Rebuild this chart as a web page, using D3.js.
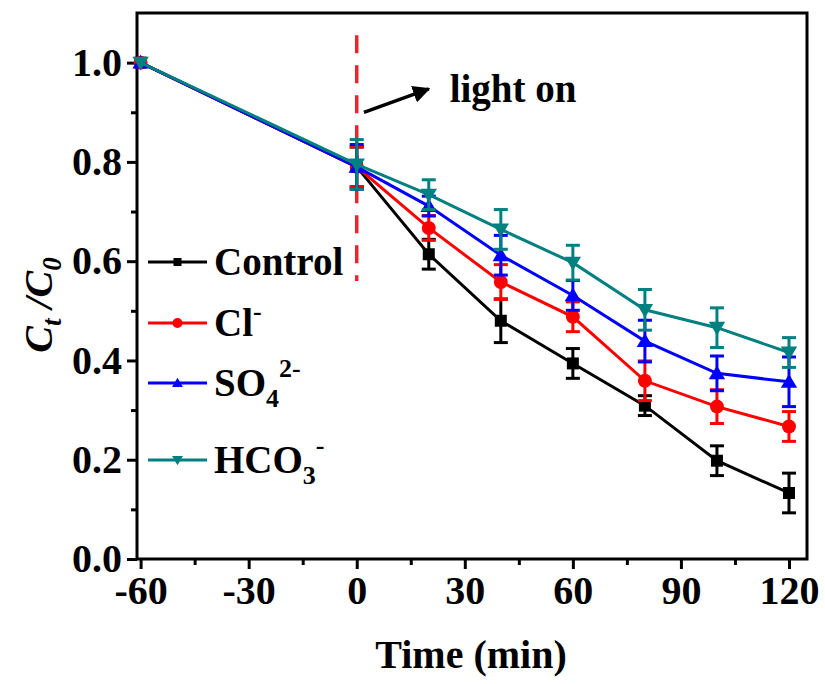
<!DOCTYPE html>
<html>
<head>
<meta charset="utf-8">
<script src="https://cdn.jsdelivr.net/npm/d3@7"></script>
<style>
  body { margin: 0; background: #fff; }
  text { font-family: "Liberation Serif", "Times New Roman", serif; font-weight: bold; }
</style>
</head>
<body>
<div id="chart"></div>
<script>
// data
const times = [-60, 0, 20, 40, 60, 80, 100, 120];
const control = [1.0, 0.79, 0.614, 0.48, 0.394, 0.309, 0.198, 0.133];
const controlErr = [0, 0.04, 0.03, 0.044, 0.03, 0.02, 0.03, 0.04];
const chloride = [1.0, 0.79, 0.667, 0.558, 0.488, 0.359, 0.307, 0.267];
const chlorideErr = [0, 0.04, 0.025, 0.035, 0.03, 0.04, 0.034, 0.03];
const sulfate = [1.0, 0.79, 0.711, 0.612, 0.531, 0.439, 0.374, 0.357];
const sulfateErr = [0, 0.045, 0.02, 0.04, 0.03, 0.042, 0.035, 0.05];
const bicarb = [1.0, 0.795, 0.734, 0.664, 0.597, 0.502, 0.466, 0.416];
const bicarbErr = [0, 0.05, 0.03, 0.04, 0.035, 0.041, 0.04, 0.03];

const xTicks = [-60, -30, 0, 30, 60, 90, 120];
const xMinor = [-45, -15, 15, 45, 75, 105];
const yTicks = [0, 0.2, 0.4, 0.6, 0.8, 1.0];
const yMinor = [0.1, 0.3, 0.5, 0.7, 0.9];

const series = [
  {name: "Control", values: control, err: controlErr, color: "#000000", shape: "square"},
  {name: "Cl", values: chloride, err: chlorideErr, color: "#ff0000", shape: "circle"},
  {name: "SO4", values: sulfate, err: sulfateErr, color: "#0000ff", shape: "up"},
  {name: "HCO3", values: bicarb, err: bicarbErr, color: "#008080", shape: "down"}
];

const W = 825, H = 684;
const margin = {left: 137, right: 807, top: 13, bottom: 559};

const svg = d3.select("#chart").append("svg")
  .attr("width", W).attr("height", H);

const x = d3.scaleLinear().domain([-61, 125]).range([margin.left, margin.right]);
const y = d3.scaleLinear().domain([0, 1.1]).range([margin.bottom, margin.top]);

// axes
const xAxis = svg.append("g")
  .attr("transform", `translate(0,${margin.bottom})`)
  .call(d3.axisBottom(x).tickValues(xTicks).tickSize(10).tickPadding(7).tickFormat(d3.format("d")));
svg.append("g")
  .attr("transform", `translate(0,${margin.bottom})`)
  .call(d3.axisBottom(x).tickValues(xMinor).tickSize(6).tickFormat(""));
const yAxis = svg.append("g")
  .attr("transform", `translate(${margin.left},0)`)
  .call(d3.axisLeft(y).tickValues(yTicks).tickSize(10).tickPadding(5).tickFormat(d3.format(".1f")));
svg.append("g")
  .attr("transform", `translate(${margin.left},0)`)
  .call(d3.axisLeft(y).tickValues(yMinor).tickSize(6).tickFormat(""));

svg.selectAll(".domain").remove();
svg.selectAll(".tick line").attr("stroke", "#000").attr("stroke-width", 3);
svg.selectAll(".tick text")
  .attr("fill", "#000")
  .style("font-family", "'Liberation Serif', serif")
  .style("font-weight", "bold")
  .style("font-size", "40px");
xAxis.selectAll(".tick text").text(d => d < 0 ? "-" + Math.abs(d) : d);

// frame
svg.append("rect")
  .attr("x", margin.left).attr("y", margin.top)
  .attr("width", margin.right - margin.left).attr("height", margin.bottom - margin.top)
  .attr("fill", "none").attr("stroke", "#000").attr("stroke-width", 3);

// light-on marker
svg.append("line")
  .attr("x1", x(0)).attr("x2", x(0))
  .attr("y1", y(1.055)).attr("y2", y(0.56))
  .attr("stroke", "#e8262b").attr("stroke-width", 3.5)
  .attr("stroke-dasharray", "18,12");

svg.append("defs").append("marker")
  .attr("id", "arrow").attr("viewBox", "0 0 10 10")
  .attr("refX", 9).attr("refY", 5)
  .attr("markerWidth", 5).attr("markerHeight", 5)
  .attr("orient", "auto")
  .append("path").attr("d", "M0,0 L10,5 L0,10 Z").attr("fill", "#000");

svg.append("line")
  .attr("x1", x(2)).attr("y1", y(0.9))
  .attr("x2", x(20)).attr("y2", y(0.947))
  .attr("stroke", "#000").attr("stroke-width", 3.5)
  .attr("marker-end", "url(#arrow)");

svg.append("text")
  .attr("x", x(25.8)).attr("y", y(0.92))
  .style("font-size", "39px")
  .text("light on");

// symbols
function drawMarker(g, shape, cx, cy, s, color) {
  if (shape === "square") {
    g.append("rect").attr("x", cx - s / 2).attr("y", cy - s / 2)
      .attr("width", s).attr("height", s).attr("fill", color);
  } else if (shape === "circle") {
    g.append("circle").attr("cx", cx).attr("cy", cy).attr("r", s / 2 + 1).attr("fill", color);
  } else if (shape === "up") {
    const h = s * 1.1;
    g.append("path").attr("d", `M${cx},${cy - h * 0.6} L${cx + h * 0.62},${cy + h * 0.45} L${cx - h * 0.62},${cy + h * 0.45} Z`).attr("fill", color);
  } else {
    const h = s * 1.1;
    g.append("path").attr("d", `M${cx},${cy + h * 0.6} L${cx + h * 0.62},${cy - h * 0.45} L${cx - h * 0.62},${cy - h * 0.45} Z`).attr("fill", color);
  }
}

const line = d3.line().x(d => x(d.t)).y(d => y(d.v));

series.forEach(s => {
  const pts = times.map((t, i) => ({t: t, v: s.values[i], e: s.err[i]}));
  const g = svg.append("g");
  g.append("path").datum(pts)
    .attr("fill", "none").attr("stroke", s.color).attr("stroke-width", 3)
    .attr("d", line);
  pts.filter(p => p.e > 0).forEach(p => {
    const cx = x(p.t);
    g.append("line").attr("x1", cx).attr("x2", cx)
      .attr("y1", y(p.v - p.e)).attr("y2", y(p.v + p.e))
      .attr("stroke", s.color).attr("stroke-width", 3);
    [p.v - p.e, p.v + p.e].forEach(v => {
      g.append("line").attr("x1", cx - 7).attr("x2", cx + 7)
        .attr("y1", y(v)).attr("y2", y(v))
        .attr("stroke", s.color).attr("stroke-width", 3);
    });
  });
  pts.forEach(p => drawMarker(g, s.shape, x(p.t), y(p.v), 12, s.color));
});

// legend
const legendY = [262, 323, 383, 460];
const legend = svg.append("g");
series.forEach((s, i) => {
  const ly = legendY[i];
  legend.append("line").attr("x1", 148).attr("x2", 207)
    .attr("y1", ly).attr("y2", ly)
    .attr("stroke", s.color).attr("stroke-width", 3);
  drawMarker(legend, s.shape, 177.5, ly, 8, s.color);
  const t = legend.append("text").attr("x", 214).attr("y", ly + 13).style("font-size", "39px");
  if (s.name === "Control") {
    t.text("Control");
  } else if (s.name === "Cl") {
    t.append("tspan").text("Cl");
    t.append("tspan").attr("dy", -16).style("font-size", "26px").text("-");
  } else if (s.name === "SO4") {
    t.append("tspan").text("SO");
    t.append("tspan").attr("dy", 11).style("font-size", "26px").text("4");
    t.append("tspan").attr("dy", -30).style("font-size", "26px").text("2-");
  } else {
    t.append("tspan").text("HCO");
    t.append("tspan").attr("dy", 11).style("font-size", "26px").text("3");
    t.append("tspan").attr("dy", -30).style("font-size", "26px").text("-");
  }
});

// axis titles
svg.append("text")
  .attr("x", (margin.left + margin.right) / 2 - 1).attr("y", 668)
  .attr("text-anchor", "middle")
  .style("font-size", "40px")
  .text("Time (min)");

const yt = svg.append("text")
  .attr("transform", `translate(52,305) rotate(-90)`)
  .attr("text-anchor", "middle")
  .style("font-size", "40px")
  .style("font-style", "italic");
yt.append("tspan").text("C");
yt.append("tspan").attr("dy", 9).style("font-size", "27px").text("t");
yt.append("tspan").attr("dy", -9).text(" /C");
yt.append("tspan").attr("dy", 9).style("font-size", "27px").text("0");
</script>
</body>
</html>
